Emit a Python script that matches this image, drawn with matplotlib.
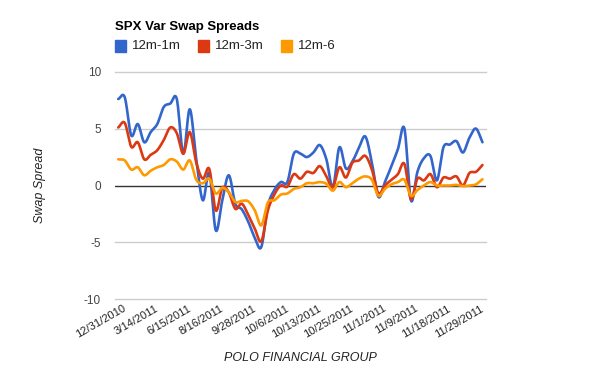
import numpy as np
import matplotlib
matplotlib.use("Agg")
import matplotlib.pyplot as plt
from matplotlib.patches import Rectangle

# ---------------- data ----------------
title = "SPX Var Swap Spreads"
series_names = ["12m-1m", "12m-3m", "12m-6"]
x_labels = ["12/31/2010", "3/14/2011", "6/15/2011", "8/16/2011", "9/28/2011",
            "10/6/2011", "10/13/2011", "10/25/2011", "11/1/2011", "11/9/2011",
            "11/18/2011", "11/29/2011"]
label_every = 5

s_12m_1m = [7.6, 7.75, 4.4, 5.4, 3.8, 4.7, 5.4, 6.9, 7.2, 7.6,
            2.8, 6.7, 2.3, -1.3, 1.1, -3.95, -1.3, 0.9, -1.6, -2.1,
            -3.2, -4.6, -5.4, -1.8, -0.4, 0.3, 0.3, 2.8, 2.8, 2.5,
            2.9, 3.55, 2.3, -0.15, 3.35, 1.5, 2.1, 3.3, 4.3, 2.0,
            -1.0, 0.3, 1.7, 3.2, 5.0, -1.3, 1.2, 2.4, 2.6, 0.45,
            3.35, 3.6, 3.9, 2.9, 4.2, 5.0, 3.8]
s_12m_3m = [5.1, 5.5, 3.4, 3.8, 2.3, 2.7, 3.1, 4.0, 5.1, 4.6,
            2.8, 4.7, 2.0, 0.6, 1.45, -2.2, -0.2, -0.6, -2.05, -1.6,
            -2.6, -3.8, -4.9, -2.2, -0.8, 0.0, -0.1, 1.0, 0.6, 1.2,
            1.1, 1.7, 0.8, -0.15, 1.6, 0.7, 2.0, 2.2, 2.6, 1.4,
            -0.7, 0.0, 0.5, 1.0, 1.9, -1.2, 0.6, 0.45, 1.0, -0.15,
            0.7, 0.6, 0.8, 0.0, 1.1, 1.2, 1.8]
s_12m_6 = [2.3, 2.2, 1.4, 1.6, 0.9, 1.3, 1.6, 1.8, 2.3, 2.1,
           1.4, 2.2, 0.5, 0.2, 0.6, -0.7, -0.2, -0.6, -1.45, -1.35,
           -1.4, -2.2, -3.5, -1.5, -1.3, -0.8, -0.7, -0.3, -0.15, 0.2,
           0.2, 0.3, 0.15, -0.45, 0.3, -0.15, 0.2, 0.6, 0.8, 0.5,
           -0.9, -0.3, 0.1, 0.3, 0.5, -0.9, -0.4, 0.0, 0.3, 0.0,
           0.0, 0.0, 0.05, -0.05, 0.0, 0.1, 0.55]
series = [s_12m_1m, s_12m_3m, s_12m_6]
colors = ["#3366cc", "#dc3912", "#ff9900"]
y_ticks = [-10, -5, 0, 5, 10]

FONT = "Liberation Sans"


def smooth(x, y, n=16):
    x = np.asarray(x, float)
    y = np.asarray(y, float)
    xp = np.concatenate([[2 * x[0] - x[1]], x, [2 * x[-1] - x[-2]]])
    yp = np.concatenate([[2 * y[0] - y[1]], y, [2 * y[-1] - y[-2]]])
    xs, ys = [], []
    t = np.linspace(0, 1, n, endpoint=False)
    for i in range(1, len(xp) - 2):
        p0, p1, p2, p3 = yp[i - 1], yp[i], yp[i + 1], yp[i + 2]
        ys.append(0.5 * ((2 * p1) + (-p0 + p2) * t +
                         (2 * p0 - 5 * p1 + 4 * p2 - p3) * t ** 2 +
                         (-p0 + 3 * p1 - 3 * p2 + p3) * t ** 3))
        xs.append(xp[i] + (xp[i + 1] - xp[i]) * t)
    xs.append([x[-1]])
    ys.append([y[-1]])
    return np.concatenate(xs), np.concatenate(ys)


fig = plt.figure(figsize=(6.0, 3.71), dpi=100)
ax = fig.add_axes([115 / 600, 1 - 299.3 / 371, 370.7 / 600, (299.3 - 71.7) / 371])

n = len(s_12m_1m)
xi = np.arange(n)

for yv in y_ticks:
    if yv == 0:
        continue
    ax.axhline(yv, color="#cccccc", lw=1.0, zorder=1, clip_on=False)

for vals, c in zip(series, colors):
    sx, sy = smooth(xi, vals)
    ax.plot(sx, sy, color=c, lw=1.9, solid_capstyle="round", zorder=3)

ax.axhline(0, color="#333333", lw=1.0, zorder=2)

ax.set_xlim(-0.5, n - 0.5)
ax.set_ylim(-10, 10)
for s in ax.spines.values():
    s.set_visible(False)
ax.set_yticks(y_ticks)
ax.set_yticklabels([str(v) for v in y_ticks], fontsize=8.5, color="#444444", family=FONT)
ax.tick_params(axis="y", length=0, pad=10)
ax.set_xticks([])

label_pos = xi[::label_every][:len(x_labels)]
for p, lab in zip(label_pos, x_labels):
    ax.annotate(lab, xy=(p, -10), xycoords="data", xytext=(3, -3), textcoords="offset points",
                rotation=30, ha="right", va="top", rotation_mode="anchor",
                fontsize=8, color="#222222", family=FONT, annotation_clip=False)

fig.text(300 / 600, 1 - 358 / 371, "POLO FINANCIAL GROUP", ha="center", va="center",
         fontsize=9, style="italic", color="#222222", family=FONT)
fig.text(40 / 600, 1 - 185 / 371, "Swap Spread", ha="center", va="center", rotation=90,
         fontsize=9, style="italic", color="#222222", family=FONT)

fig.text(115 / 600, 1 - 27 / 371, title, ha="left", va="center",
         fontsize=9.5, fontweight="bold", color="#000000", family=FONT)

leg_x = [115, 197.7, 281]
for lx, name, c in zip(leg_x, series_names, colors):
    fig.patches.append(Rectangle((lx / 600, 1 - 51.7 / 371), 11 / 600, 11.5 / 371,
                                 transform=fig.transFigure, color=c, figure=fig))
    fig.text((lx + 17) / 600, 1 - 46 / 371, name, ha="left", va="center",
             fontsize=9.5, color="#222222", family=FONT)

fig.savefig("out.png", dpi=100)
